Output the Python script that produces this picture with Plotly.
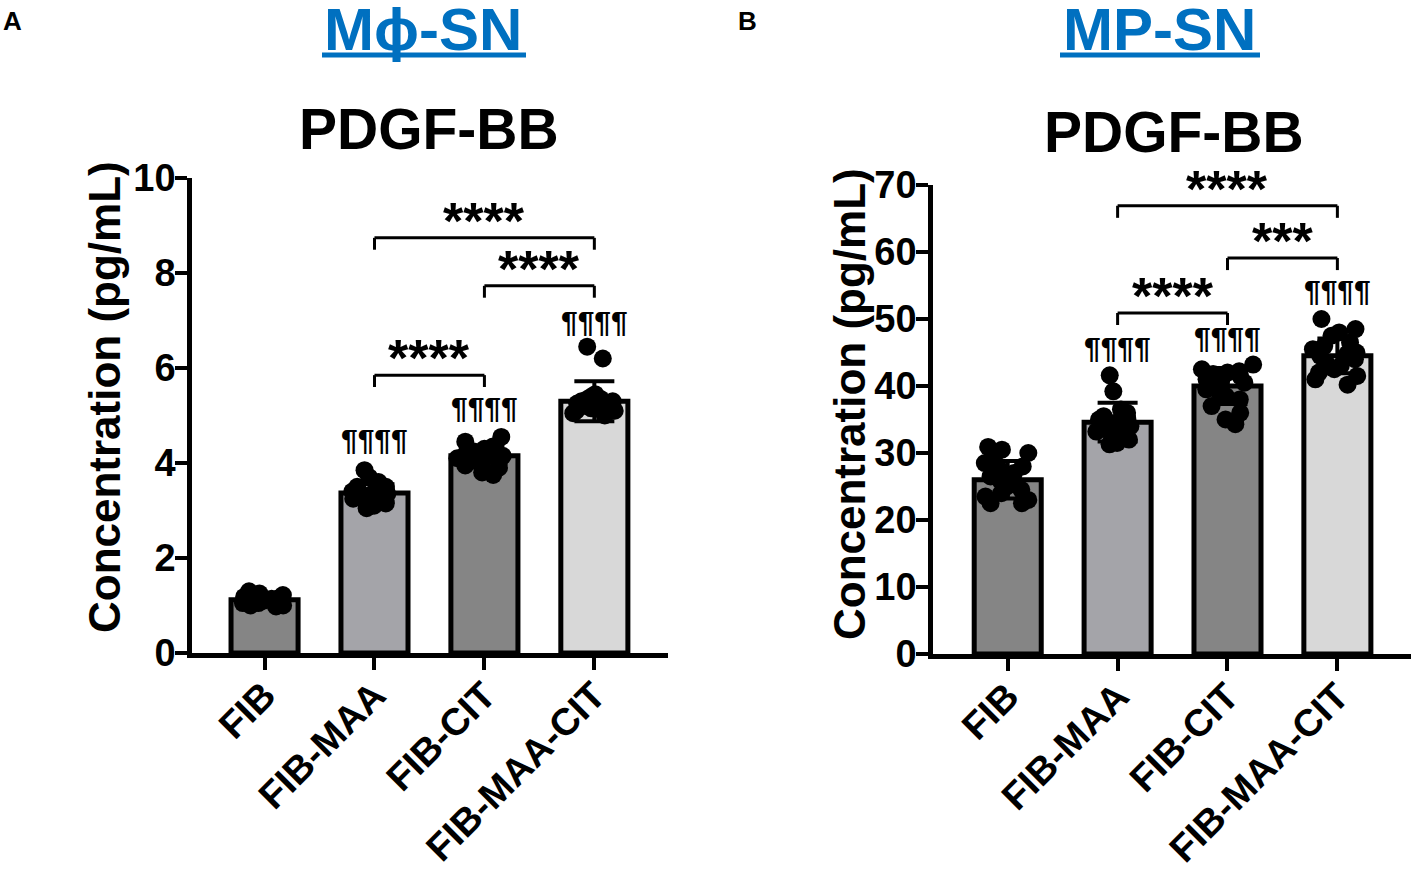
import plotly.graph_objects as go

groups = ["FIB", "FIB-MAA", "FIB-CIT", "FIB-MAA-CIT"]
bar_colors = ["#858585", "#a4a4a9", "#858585", "#d8d8d8"]

# panel A: Mϕ-SN
a_mean = [1.12, 3.37, 4.15, 5.30]
a_sd = [0.10, 0.18, 0.22, 0.42]
a_fib = [1.05, 1.10, 1.20, 1.30, 1.15, 1.00, 1.10, 1.25, 1.05, 1.12, 1.08, 1.18, 1.00, 1.22, 1.10, 1.15, 0.98, 1.14]
a_maa = [3.85, 3.70, 3.60, 3.50, 3.45, 3.40, 3.35, 3.30, 3.25, 3.20, 3.15, 3.10, 3.05, 3.30, 3.40, 3.50, 3.35, 3.20]
a_cit = [4.55, 4.45, 4.35, 4.30, 4.20, 4.15, 4.10, 4.05, 4.00, 3.95, 3.90, 3.80, 3.75, 4.20, 4.10, 4.25, 4.05, 4.15]
a_maacit = [6.45, 6.20, 5.45, 5.40, 5.35, 5.30, 5.25, 5.20, 5.15, 5.10, 5.05, 5.00, 5.30, 5.20, 5.35, 5.25, 5.10, 5.15]
a_pairs = [(1, 2), (2, 3), (1, 3)]
a_pair_y = [5.85, 7.73, 8.74]
a_pair_text = ["****", "****", "****"]
a_para_y = [None, 4.5, 5.16, 6.98]

# panel B: MP-SN
b_mean = [26.0, 34.6, 40.0, 44.5]
b_sd = [2.8, 2.9, 2.7, 2.6]
b_fib = [30.9, 30.5, 30.0, 29.5, 28.5, 28.0, 27.0, 26.5, 26.0, 25.5, 25.0, 24.5, 24.0, 23.5, 23.0, 22.5, 22.5, 27.5]
b_maa = [41.6, 39.2, 36.5, 36.0, 35.5, 35.0, 34.5, 34.0, 33.8, 33.5, 33.0, 32.5, 32.0, 31.5, 31.3, 34.8, 35.2, 33.2]
b_cit = [43.2, 42.5, 42.0, 41.8, 41.5, 41.0, 40.8, 40.5, 40.0, 39.5, 39.0, 38.5, 38.0, 37.0, 36.0, 35.0, 34.3, 42.2]
b_maacit = [50.0, 48.5, 48.0, 47.5, 46.5, 46.0, 45.5, 45.0, 44.5, 44.0, 43.5, 43.0, 42.5, 42.0, 41.5, 41.0, 40.2, 44.8]
b_pairs = [(1, 2), (2, 3), (1, 3)]
b_pair_y = [50.9, 59.1, 66.9]
b_pair_text = ["****", "***", "****"]
b_para_y = [None, 45.8, 47.3, 54.3]

W, H = 1412, 871
FONT = "Liberation Sans"
fig = go.Figure()

panels = [
    dict(xa="x", ya="y", mean=a_mean, sd=a_sd, pts=[a_fib, a_maa, a_cit, a_maacit],
         pairs=a_pairs, pair_y=a_pair_y, pair_text=a_pair_text, para_y=a_para_y, leg=0.25),
    dict(xa="x2", ya="y2", mean=b_mean, sd=b_sd, pts=[b_fib, b_maa, b_cit, b_maacit],
         pairs=b_pairs, pair_y=b_pair_y, pair_text=b_pair_text, para_y=b_para_y, leg=1.8),
]

for p in panels:
    fig.add_trace(go.Bar(
        x=list(range(len(groups))), y=p["mean"], xaxis=p["xa"], yaxis=p["ya"], width=0.61,
        marker=dict(color=bar_colors, line=dict(color="black", width=5)),
        error_y=dict(type="data", array=p["sd"], color="black", thickness=4, width=20),
        hoverinfo="skip", showlegend=False))
    xs, ys = [], []
    for i, vals in enumerate(p["pts"]):
        xs += [i] * len(vals)
        ys += vals
    fig.add_trace(go.Box(
        x=xs, y=ys, xaxis=p["xa"], yaxis=p["ya"], boxpoints="all", jitter=1, pointpos=0, width=0.5,
        fillcolor="rgba(0,0,0,0)", line=dict(color="rgba(0,0,0,0)", width=0),
        marker=dict(color="black", size=18), hoverinfo="skip", showlegend=False))
    for (i, j), yv, txt in zip(p["pairs"], p["pair_y"], p["pair_text"]):
        fig.add_shape(type="line", xref=p["xa"], yref=p["ya"], x0=i, x1=j, y0=yv, y1=yv,
                      line=dict(color="black", width=3))
        for k in (i, j):
            fig.add_shape(type="line", xref=p["xa"], yref=p["ya"], x0=k, x1=k, y0=yv, y1=yv - p["leg"],
                          line=dict(color="black", width=3))
        fig.add_annotation(x=(i + j) / 2, y=yv, xref=p["xa"], yref=p["ya"], text=txt, showarrow=False,
                           yanchor="bottom", yshift=-14, font=dict(family=FONT, size=52, color="black", weight="bold"))
    for i, yv in enumerate(p["para_y"]):
        if yv is None:
            continue
        fig.add_annotation(x=i, y=yv, xref=p["xa"], yref=p["ya"], text="¶¶¶¶", showarrow=False,
                           yanchor="middle", font=dict(family=FONT, size=30, color="black", weight="bold"))

axis_style = dict(showline=True, linewidth=4.5, linecolor="black", ticks="outside", ticklen=12, tickwidth=4,
                  tickcolor="black", showgrid=False, zeroline=False, automargin=False,
                  tickfont=dict(family=FONT, size=38, color="black", weight="bold"))

fig.update_layout(
    width=W, height=H, margin=dict(l=0, r=0, t=0, b=0), plot_bgcolor="white", paper_bgcolor="white",
    barmode="overlay", boxmode="overlay",
    xaxis=dict(domain=[192 / W, 668 / W], range=[-0.66, 3.67], tickvals=[0, 1, 2, 3], ticktext=groups,
               tickangle=-45, anchor="y", **axis_style),
    yaxis=dict(domain=[1 - 653 / H, 1 - 178 / H], range=[0, 10], dtick=2, anchor="x", **axis_style),
    xaxis2=dict(domain=[933 / W, 1411 / W], range=[-0.68, 3.67], tickvals=[0, 1, 2, 3], ticktext=groups,
                tickangle=-45, anchor="y2", **axis_style),
    yaxis2=dict(domain=[1 - 654 / H, 1 - 185 / H], range=[0, 70], dtick=10, anchor="x2", **axis_style),
)
# pull tick labels closer to the axes, as in the reference
try:
    fig.update_xaxes(ticklabelstandoff=-12)
    fig.update_yaxes(ticklabelstandoff=-8)
except ValueError:
    pass

# titles and labels
texts = [
    ("A", 12, 21, 26, "black", 0),
    ("B", 747, 21, 26, "black", 0),
    ("Mϕ-SN", 423, 29, 60, "#0070c0", 0),
    ("MP-SN", 1159, 29, 60, "#0070c0", 0),
    ("PDGF-BB", 429, 129, 57, "black", 0),
    ("PDGF-BB", 1174, 132, 57, "black", 0),
    ("Concentration (pg/mL)", 104, 397, 44, "black", -90),
    ("Concentration (pg/mL)", 849, 404, 44, "black", -90),
]
for t, x, y, s, c, ang in texts:
    fig.add_annotation(x=x / W, y=1 - y / H, xref="paper", yref="paper", text=t, showarrow=False,
                       textangle=ang, xanchor="center", yanchor="middle",
                       font=dict(family=FONT, size=s, color=c, weight="bold"))
for x0, x1 in [(322, 526), (1060, 1260)]:
    fig.add_shape(type="line", xref="paper", yref="paper", x0=x0 / W, x1=x1 / W, y0=1 - 55 / H, y1=1 - 55 / H,
                  line=dict(color="#0070c0", width=5))

fig.write_html("out.html", config={"displayModeBar": False},
               post_script="document.body.style.margin='0';")
